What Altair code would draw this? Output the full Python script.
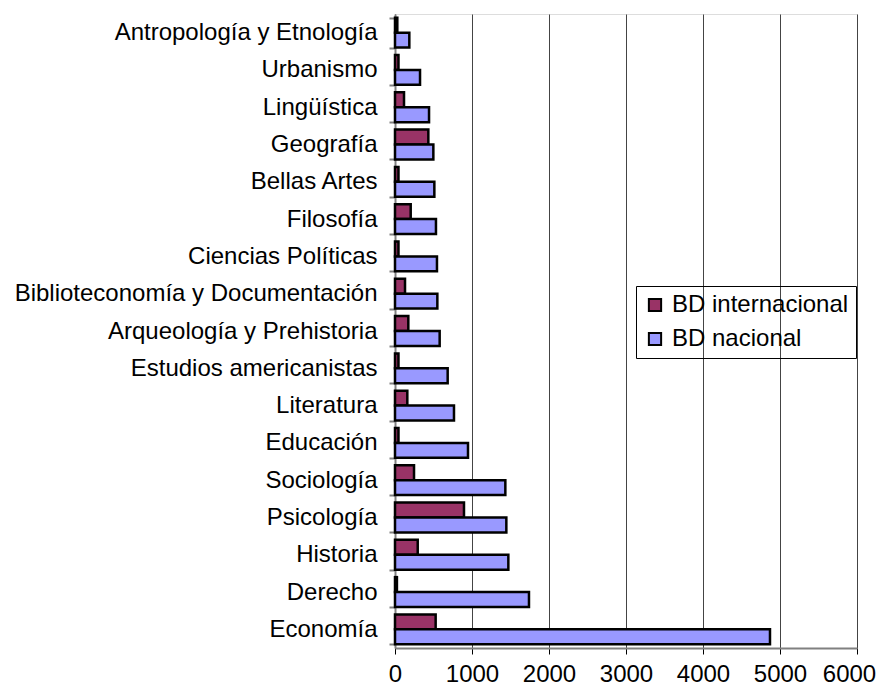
import altair as alt
import pandas as pd

categories = ["Antropología y Etnología", "Urbanismo", "Lingüística", "Geografía",
              "Bellas Artes", "Filosofía", "Ciencias Políticas",
              "Biblioteconomía y Documentación", "Arqueología y Prehistoria",
              "Estudios americanistas", "Literatura", "Educación", "Sociología",
              "Psicología", "Historia", "Derecho", "Economía"]
internacional = [30, 45, 117, 433, 45, 204, 45, 130, 173, 45, 160, 45, 247, 896, 295, 25, 528]
nacional = [186, 325, 442, 498, 511, 532, 545, 550, 580, 684, 766, 948, 1433, 1446, 1472, 1740, 4870]
series = ["BD internacional", "BD nacional"]
colors = ["#993366", "#9999FF"]

rows = []
for c, i, n in zip(categories, internacional, nacional):
    rows.append({"cat": c, "serie": series[0], "v": i})
    rows.append({"cat": c, "serie": series[1], "v": n})
df = pd.DataFrame(rows)

font = "Liberation Sans"

chart = alt.Chart(df).mark_bar(stroke="black", strokeWidth=2.5).encode(
    y=alt.Y("cat:N", sort=categories, title=None,
            scale=alt.Scale(paddingInner=0.2, paddingOuter=0.1),
            axis=alt.Axis(labelFont=font, labelFontSize=24, labelColor="black",
                          tickBand="extent", tickSize=6, tickColor="#808080", tickWidth=2,
                          domainColor="#808080", domainWidth=2, labelPadding=12,
                          labelLimit=600)),
    yOffset=alt.YOffset("serie:N", sort=series, scale=alt.Scale(paddingInner=0)),
    x=alt.X("v:Q", title=None,
            scale=alt.Scale(domain=[0, 6000], nice=False),
            axis=alt.Axis(values=[0, 1000, 2000, 3000, 4000, 5000, 6000], format="d",
                          labelFont=font, labelFontSize=24, labelColor="black",
                          labelOverlap=False, labelFlush=False,
                          labelOffset=alt.ExprRef(expr="datum.value == 6000 ? -8 : 0"),
                          tickSize=6, tickColor="black", domainColor="#808080",
                          domainWidth=2, gridColor="#444444", gridWidth=1,
                          labelPadding=8)),
    color=alt.Color("serie:N", sort=series,
                    scale=alt.Scale(domain=series, range=colors),
                    legend=alt.Legend(title=None, orient="none", legendX=241, legendY=272,
                                      labelFont=font, labelFontSize=24, labelColor="black",
                                      labelLimit=400,
                                      symbolType="square", symbolSize=150,
                                      symbolStrokeColor="black", symbolStrokeWidth=2,
                                      symbolOpacity=1,
                                      strokeColor="black", padding=7, rowPadding=10,
                                      labelOffset=5)),
).properties(
    width=462, height=634,
    autosize=alt.AutoSizeParams(type="none"),
    padding={"left": 387, "top": 6, "right": 20, "bottom": 43},
).configure_view(
    stroke="#808080", strokeWidth=2
).configure(background="white")

chart.save("out.html", embed_options={"renderer": "svg", "actions": False})
